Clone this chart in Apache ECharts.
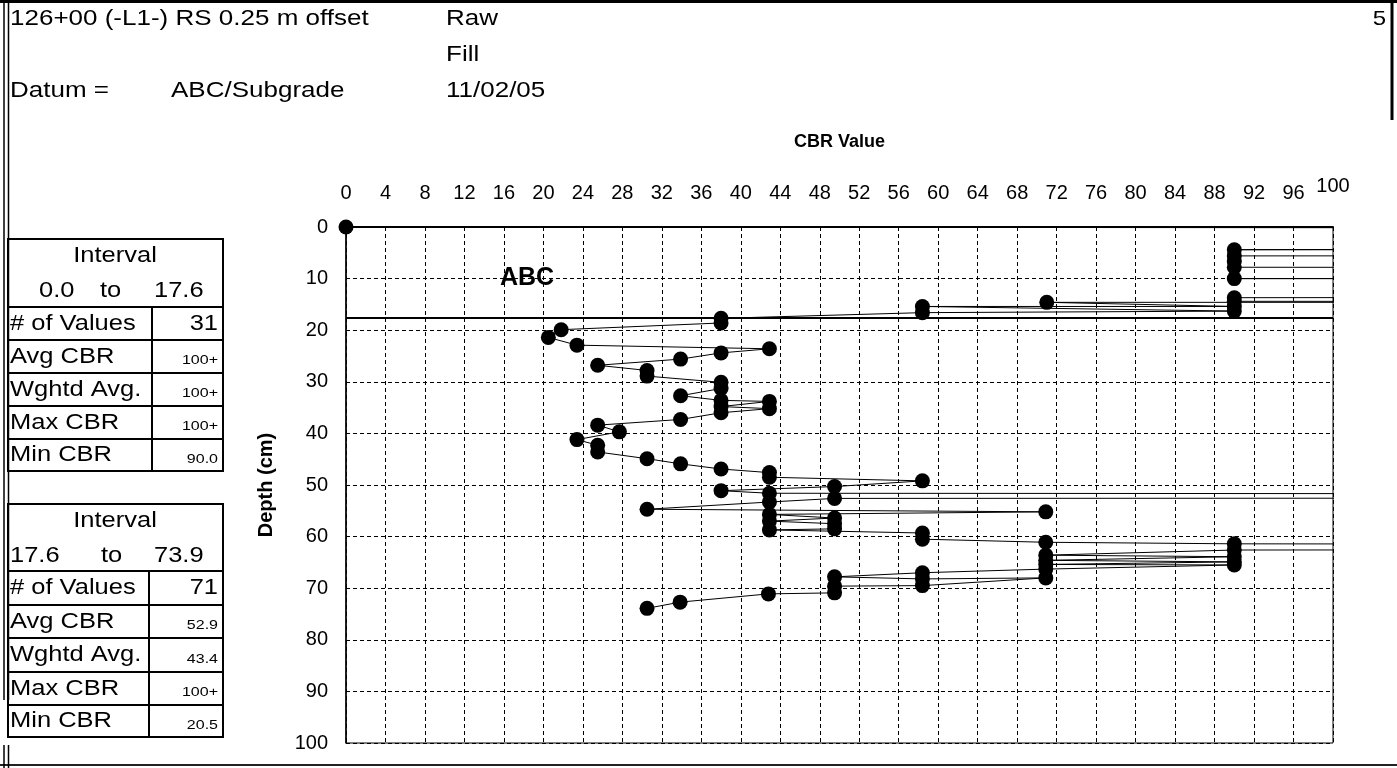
<!DOCTYPE html>
<html><head><meta charset="utf-8">
<script src="https://cdn.jsdelivr.net/npm/echarts@6/dist/echarts.min.js"></script>
<style>html,body{margin:0;padding:0;background:#fff;}#c{width:1397px;height:768px;}</style>
</head><body><div id="c"></div>
<script>
// ---- data (CBR values > 100 are off the chart, shown as "100+") ----
const abcCbr   = [0, 300, 300, 300, 300, 300, 300, 90, 300, 300, 90, 90, 90, 300, 300, 300, 90, 300, 300, 300, 300, 300, 90, 90, 300, 71, 90, 58.4, 90, 58.4];
const abcDepth = [0, 0.4, 1.0, 1.6, 2.2, 2.8, 3.5, 4.4, 4.6, 5.5, 5.6, 6.7, 7.8, 8.1, 8.9, 9.7, 10.0, 10.2, 11.0, 11.8, 12.6, 13.4, 13.7, 14.4, 14.6, 14.6, 15.4, 15.4, 16.3, 16.6];
const fillCbr   = [38, 38, 21.8, 20.5, 23.4, 42.9, 38, 33.9, 25.5, 30.5, 30.5, 38, 38, 33.9, 38, 42.9, 38, 42.9, 38, 33.9, 25.5, 27.7, 23.4, 25.5, 25.5, 30.5, 33.9, 38, 42.9, 42.9, 58.4, 49.5, 38, 42.9, 300, 300, 49.5, 42.9, 30.5, 70.9, 42.9, 49.5, 42.9, 49.5, 49.5, 42.9, 58.4, 58.4, 70.9, 90, 300, 300, 90, 70.9, 90, 70.9, 90, 70.9, 90, 70.9, 58.4, 49.5, 58.4, 70.9, 58.4, 49.5, 49.5, 42.8, 33.85, 30.5];
const fillDepth = [17.7, 18.6, 19.9, 21.4, 22.9, 23.6, 24.4, 25.6, 26.8, 27.8, 28.9, 30.1, 31.3, 32.7, 33.6, 33.8, 34.8, 35.2, 36.0, 37.3, 38.4, 39.7, 41.2, 42.3, 43.6, 44.9, 45.9, 46.9, 47.6, 48.5, 49.2, 50.3, 51.1, 51.6, 51.9, 52.4, 52.6, 53.3, 54.7, 55.2, 55.7, 56.4, 57.0, 57.5, 58.5, 58.7, 59.3, 60.5, 61.1, 61.4, 61.8, 62.4, 62.6, 63.6, 63.9, 64.6, 64.9, 65.4, 65.5, 66.3, 67.0, 67.8, 68.2, 68.0, 69.5, 69.6, 70.9, 71.1, 72.7, 73.9];
const layerBoundary = 17.6;
const layerLabel = 'ABC';

const headerTexts = ['126+00 (-L1-) RS 0.25 m offset', 'Raw', 'Fill', 'Datum =', 'ABC/Subgrade', '11/02/05', '5'];
const rowLabels = ['# of Values', 'Avg CBR', 'Wghtd Avg.', 'Max CBR', 'Min CBR'];
const table1Range = ['0.0', 'to', '17.6'];
const table1Values = ['31', '100+', '100+', '100+', '90.0'];
const table2Range = ['17.6', 'to', '73.9'];
const table2Values = ['71', '52.9', '43.4', '100+', '20.5'];

const FF = '"Liberation Sans", Arial, Helvetica, sans-serif';
const data = abcCbr.map((v, i) => [v, abcDepth[i]]).concat(fillCbr.map((v, i) => [v, fillDepth[i]]));

function T(x, y, s, size, opt) {
  opt = opt || {};
  return { type: 'text', x: x, y: y, scaleX: opt.sx || 1, scaleY: opt.sy || 1, silent: true, z: 10,
    style: { text: s, font: (opt.bold ? 'bold ' : '') + size + 'px ' + FF, fill: '#000',
      align: opt.align || 'left', verticalAlign: 'middle', textAlign: opt.align || 'left', textVerticalAlign: 'middle' } };
}
function L(x1, y1, x2, y2, w, c) {
  return { type: 'line', silent: true, z: 10, shape: { x1: x1, y1: y1, x2: x2, y2: y2 }, style: { stroke: c || '#000', lineWidth: w || 2 } };
}
const g = [];
// page frame
g.push(L(0, 1.5, 1397, 1.5, 3));
g.push(L(4, 0, 4, 700, 1.5), L(8.5, 0, 8.5, 700, 1.5));
g.push(L(1392, 0, 1392, 120, 3));
g.push(L(0, 765, 1397, 765, 2, '#222'));
g.push(L(4, 745, 4, 768, 1.5), L(8.5, 745, 8.5, 768, 1.5));
// header
const HS = 0.85;
g.push(T(10, 19, headerTexts[0], 26, { sy: HS }));
g.push(T(446, 19, headerTexts[1], 26, { sy: HS }));
g.push(T(446, 55, headerTexts[2], 26, { sy: HS }));
g.push(T(10, 91, headerTexts[3], 26, { sy: HS }));
g.push(T(171, 91, headerTexts[4], 26, { sy: HS }));
g.push(T(446, 91, headerTexts[5], 26, { sy: HS }));
g.push(T(1386, 19, headerTexts[6], 24, { sy: HS, align: 'right' }));
// tables
function table(top, hdrBottom, rowsY, divX, range, rangeX, values) {
  const left = 8, right = 223, bottom = rowsY[rowsY.length - 1];
  g.push({ type: 'rect', silent: true, z: 10, shape: { x: left, y: top, width: right - left, height: bottom - top }, style: { fill: 'none', stroke: '#000', lineWidth: 2 } });
  g.push(L(left, hdrBottom, right, hdrBottom, 2));
  for (let i = 1; i < rowsY.length - 1; i++) g.push(L(left, rowsY[i], right, rowsY[i], 2));
  g.push(L(divX, hdrBottom, divX, bottom, 2));
  g.push(T(115, top + 17, 'Interval', 25.5, { sy: 0.9, align: 'center' }));
  for (let i = 0; i < 3; i++) g.push(T(rangeX[i], top + 52, range[i], 25.5, { sy: 0.9 }));
  for (let i = 0; i < rowLabels.length; i++) {
    const yc = (rowsY[i] + rowsY[i + 1]) / 2;
    g.push(T(10, yc, rowLabels[i], 25.5, { sy: 0.9 }));
    const big = i === 0;
    g.push(T(218, yc + (big ? 0 : 4), values[i], big ? 25.5 : 16, { sy: big ? 0.9 : 0.85, align: 'right' }));
  }
}
table(239, 307, [307, 340, 373, 406, 439, 471], 152, table1Range, [39, 100, 154], table1Values);
table(504, 571, [571, 605, 638, 672, 705, 737], 149, table2Range, [10, 101, 154], table2Values);
// layer label
g.push(T(527, 278, layerLabel, 25, { bold: true, align: 'center' }));

const gridLine = { show: true, lineStyle: { color: '#000', width: 1, type: [4, 3] } };
const option = {
  animation: false,
  backgroundColor: '#fff',
  grid: { left: 346, top: 227, right: 64, bottom: 25, show: true, borderColor: '#000', borderWidth: 1, backgroundColor: 'transparent' },
  xAxis: {
    type: 'value', position: 'top', min: 0, max: 100, interval: 4,
    name: 'CBR Value', nameLocation: 'middle', nameGap: 76,
    nameTextStyle: { fontFamily: FF, fontSize: 18, fontWeight: 'bold', color: '#000' },
    axisLine: { show: true, lineStyle: { color: '#000', width: 2 } },
    axisTick: { show: false },
    axisLabel: { fontFamily: FF, fontSize: 20, color: '#000', margin: 24,
      formatter: v => v === 100 ? '{r|100}' : String(v),
      rich: { r: { fontFamily: FF, fontSize: 20, color: '#000', padding: [0, 0, 7, 0] } } },
    splitLine: gridLine
  },
  yAxis: {
    type: 'value', inverse: true, min: 0, max: 100, interval: 10,
    name: 'Depth (cm)', nameLocation: 'middle', nameGap: 70, nameRotate: 90,
    nameTextStyle: { fontFamily: FF, fontSize: 20, fontWeight: 'bold', color: '#000' },
    axisLine: { show: true, lineStyle: { color: '#000', width: 1.5 } },
    axisTick: { show: false },
    axisLabel: { fontFamily: FF, fontSize: 20, color: '#000', margin: 18 },
    splitLine: gridLine
  },
  series: [{
    type: 'line', data: data, symbol: 'circle', symbolSize: 15, clip: true, silent: true,
    itemStyle: { color: '#000' }, lineStyle: { color: '#000', width: 1 },
    emphasis: { disabled: true },
    markLine: { silent: true, symbol: ['none', 'none'], label: { show: false },
      lineStyle: { color: '#000', width: 2, type: 'solid' }, data: [{ yAxis: layerBoundary }] }
  }],
  graphic: g
};
const chart = echarts.init(document.getElementById('c'), null, { renderer: 'canvas' });
chart.setOption(option);
</script></body></html>
